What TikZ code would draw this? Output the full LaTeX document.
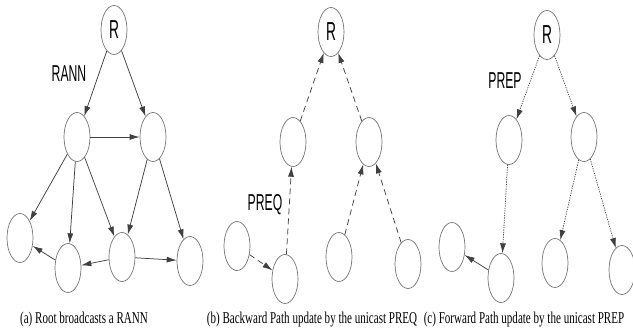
\documentclass[tikz,border=0pt]{standalone}
\usepackage{fontspec}
\usetikzlibrary{shapes.geometric,arrows.meta}
\newfontfamily\lblfont[FakeStretch=0.53]{Liberation Sans}
\newfontfamily\capfont[FakeStretch=0.67]{Liberation Serif}
\tikzset{
  nd/.style={ellipse, draw=black!55, line width=0.7pt, minimum width=26pt, minimum height=49pt, inner sep=0pt},
  lk/.style={draw=black!75, line width=0.75pt, -{Latex[length=10pt,width=6pt]}},
  dsh/.style={lk, dash pattern=on 6pt off 4pt},
  dtt/.style={lk, dash pattern=on 1.2pt off 1.2pt},
  lbl/.style={font={\lblfont\fontsize{23}{23}\selectfont}, inner sep=0pt, anchor=base},
  rlbl/.style={font={\lblfont\fontsize{26}{26}\selectfont}},
  captxt/.style={font={\capfont\fontsize{16.5}{16.5}\selectfont}, inner sep=0pt, anchor=base}
}
\begin{document}
\begin{tikzpicture}[x=1pt,y=-1pt]
\useasboundingbox (0,0) rectangle (633,330);
% panel a
\node[nd,rlbl] (Ra) at (114,30) {R};
\node[nd] (a1) at (77,137) {};
\node[nd] (a2) at (153,137) {};
\node[nd] (a3) at (20,238) {};
\node[nd] (a4) at (68,268) {};
\node[nd] (a5) at (122,257) {};
\node[nd] (a6) at (190,261) {};
\draw[lk] (Ra) -- (a1);
\draw[lk] (Ra) -- (a2);
\draw[lk] (a1) -- (a2);
\draw[lk] (a1) -- (a3);
\draw[lk] (a1) -- (a4);
\draw[lk] (a1) -- (a5);
\draw[lk] (a2) -- (a5);
\draw[lk] (a2) -- (a6);
\draw[lk] (a4) -- (a3);
\draw[lk] (a5) -- (a4);
\draw[lk] (a5) -- (a6);
\node[lbl] (rann) at (69,81) {RANN};
\node[captxt] (capa) at (84,323) {(a) Root broadcasts a RANN};
% panel b
\node[nd,rlbl] (Rb) at (331,32) {R};
\node[nd] (b1) at (293,142) {};
\node[nd] (b2) at (369,142) {};
\node[nd] (b3) at (237,246) {};
\node[nd] (b4) at (285,279) {};
\node[nd] (b5) at (339,257) {};
\node[nd] (b6) at (408,264) {};
\draw[dsh] (b1) -- (Rb);
\draw[dsh] (b2) -- (Rb);
\draw[dsh] (b4) -- (b1);
\draw[dsh] (b3) -- (b4);
\draw[dsh] (b5) -- (b2);
\draw[dsh] (b6) -- (b2);
\node[lbl] (preq) at (265,210) {PREQ};
\node[captxt] (capb) at (312,323) {(b) Backward Path update by the unicast PREQ};
% panel c
\node[nd,rlbl] (Rc) at (547,35) {R};
\node[nd] (c1) at (509,140) {};
\node[nd] (c2) at (584,137) {};
\node[nd] (c3) at (452,247) {};
\node[nd] (c4) at (501,278) {};
\node[nd] (c5) at (555,263) {};
\node[nd] (c6) at (622,270) {};
\draw[dtt] (Rc) -- (c1);
\draw[dtt] (Rc) -- (c2);
\draw[dtt] (c1) -- (c4);
\draw[dtt] (c2) -- (c5);
\draw[dtt] (c2) -- (c6);
\draw[lk] (c4) -- (c3);
\node[lbl] (prep) at (505,88) {PREP};
\node[captxt] (capc) at (524,323) {(c) Forward Path update by the unicast PREP};
\end{tikzpicture}
\end{document}
